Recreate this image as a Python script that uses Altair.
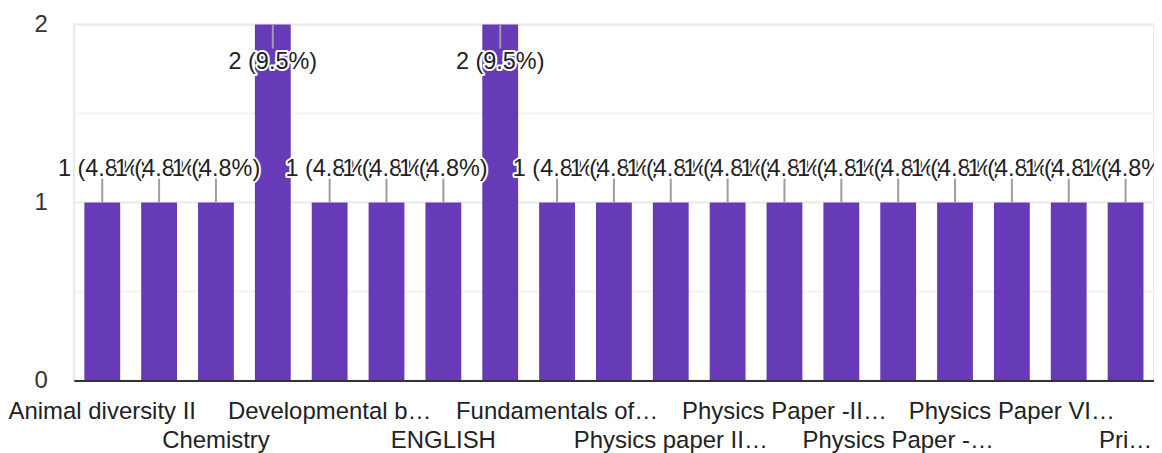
import json
import altair as alt
import pandas as pd

categories = [
    "Animal diversity II", "Botany Paper II", "Chemistry", "Computer Science",
    "Developmental biology", "Ecology", "ENGLISH", "Environmental Studies",
    "Fundamentals of Physics", "Mathematics", "Physics paper II (Optics)",
    "Physics Paper -I", "Physics Paper -II (Mechanics)", "Physics Paper -III",
    "Physics Paper -IV (Waves)", "Physics Paper V", "Physics Paper VI (Electronics)",
    "Physics Paper VII", "Principles of Genetics",
]
counts = [1, 1, 1, 2, 1, 1, 1, 2, 1, 1, 1, 1, 1, 1, 1, 1, 1, 1, 1]
tick_labels = [
    "Animal diversity II", "", "Chemistry", "", "Developmental b…", "", "ENGLISH", "",
    "Fundamentals of…", "", "Physics paper II…", "", "Physics Paper -II…", "",
    "Physics Paper -…", "", "Physics Paper VI…", "", "Pri…",
]
y_ticks = [0, 1, 2]
major_grid = [1, 2]
minor_grid = [0.5, 1.5]

total = sum(counts)
value_labels = [f"{c} ({c / total * 100:.1f}%)" for c in counts]

df = pd.DataFrame({"cat": categories, "count": counts})

rows = []
for c, n, l in zip(categories, counts, value_labels):
    rows.append({"cat": c, "count": n, "label": l, "kind": "halo"})
    rows.append({"cat": c, "count": n, "label": l, "kind": "fill"})
lab = pd.DataFrame(rows)

# label expression: alternate rows, every other category shown
expr_items = []
for i, t in enumerate(tick_labels):
    if t == "":
        expr_items.append('""')
    elif (i // 2) % 2 == 0:
        expr_items.append(json.dumps(t))
    else:
        expr_items.append(json.dumps(["", t]))
label_expr = "[" + ",".join(expr_items) + "][indexof(" + json.dumps(categories) + ", datum.value)]"

FONT = "Liberation Sans"
PURPLE = "#673ab7"
YSCALE = alt.Scale(domain=[0, 2], nice=False)
YAXIS = alt.Axis(
    title=None, values=y_ticks, grid=False, ticks=False, labels=False,
    domain=True, domainColor="#ebebeb", domainWidth=2,
)

x_enc = alt.X(
    "cat:N",
    sort=categories,
    scale=alt.Scale(paddingInner=0.37, paddingOuter=0.185),
    axis=alt.Axis(
        title=None, labelAngle=0, ticks=False, domain=True, domainColor="#333333",
        domainWidth=2, labelExpr=label_expr, labelFont=FONT, labelFontSize=24,
        labelColor="#222222", labelPadding=19, labelLineHeight=29, labelLimit=0,
        labelOverlap=False, labelBound=False, zindex=1,
    ),
)
y_enc = alt.Y("count:Q", scale=YSCALE, axis=YAXIS)

minor = alt.Chart(pd.DataFrame({"v": minor_grid})).mark_rule(
    color="#f4f4f4", strokeWidth=2
).encode(y=alt.Y("v:Q", scale=YSCALE, axis=YAXIS))

major = alt.Chart(pd.DataFrame({"v": major_grid})).mark_rule(
    color="#ebebeb", strokeWidth=2
).encode(y=alt.Y("v:Q", scale=YSCALE, axis=YAXIS))

ylabels = alt.Chart(pd.DataFrame({"t": y_ticks})).mark_text(
    font=FONT, fontSize=24, color="#333333", align="right", baseline="middle", dx=-26
).encode(
    y=alt.Y("t:Q", scale=YSCALE, axis=YAXIS),
    x=alt.value(0),
    text=alt.Text("t:Q", format="d"),
)

bars = alt.Chart(df).mark_bar(color=PURPLE).encode(x=x_enc, y=y_enc)

lead_low = alt.Chart(df).transform_filter("datum.count < 2").mark_rule(
    color="#9e9e9e", strokeWidth=2, y2Offset=-24
).encode(x=x_enc, y=y_enc, y2=alt.Y2("count"))

lead_high = alt.Chart(df).transform_filter("datum.count >= 2").mark_rule(
    color="#9e9e9e", strokeWidth=2, y2Offset=24
).encode(x=x_enc, y=y_enc, y2=alt.Y2("count"))

halo_cond = alt.datum.kind == "halo"


def text_layer(flt, dy):
    return alt.Chart(lab).transform_filter(flt).mark_text(
        font=FONT, fontSize=23.5, baseline="middle", align="center", dy=dy,
        stroke="white", strokeJoin="round",
    ).encode(
        x=x_enc,
        y=y_enc,
        text="label:N",
        color=alt.when(halo_cond).then(alt.value("white")).otherwise(alt.value("#222222")),
        strokeWidth=alt.when(halo_cond).then(alt.value(4)).otherwise(alt.value(0)),
    )


text_low = text_layer("datum.count < 2", -34)
text_high = text_layer("datum.count >= 2", 38)

chart = alt.layer(
    minor, major, bars, lead_low, lead_high, text_low, text_high, ylabels
).properties(
    width=1083, height=357,
    autosize=alt.AutoSizeParams(type="none"),
    padding={"left": 66, "top": 16, "right": 0, "bottom": 76},
).configure_view(stroke="#ebebeb", strokeWidth=2)

chart.save("out.html", embed_options={"renderer": "svg", "actions": False})
